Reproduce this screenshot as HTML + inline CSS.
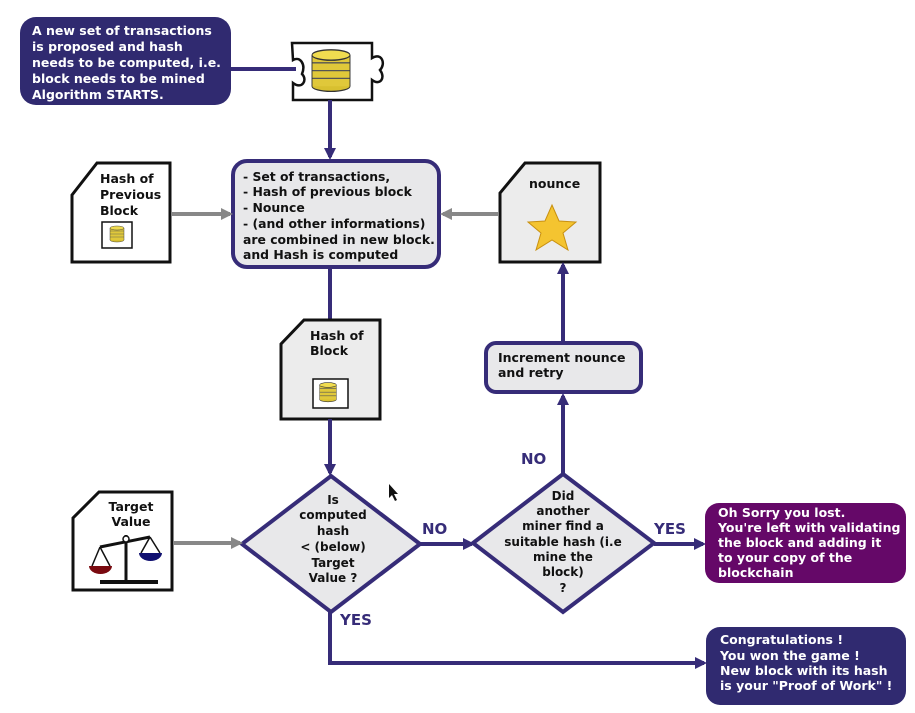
<!DOCTYPE html>
<html><head><meta charset="utf-8"><style>
html,body{margin:0;padding:0;background:#fff;}
svg{display:block;}
text{font-family:"DejaVu Sans","Liberation Sans",sans-serif;font-weight:bold;}
</style></head><body>
<svg width="915" height="713" viewBox="0 0 915 713" xmlns="http://www.w3.org/2000/svg">
<defs>
<marker id="ap" markerWidth="12" markerHeight="12" refX="9" refY="6" orient="auto" markerUnits="userSpaceOnUse"><path d="M0,0 L12,6 L0,12 Z" fill="#362c78"/></marker>
<marker id="ag" markerWidth="12" markerHeight="12" refX="9" refY="6" orient="auto" markerUnits="userSpaceOnUse"><path d="M0,0 L12,6 L0,12 Z" fill="#888"/></marker>
<g id="coins">
<ellipse cx="0" cy="24" rx="20" ry="4" fill="#d8c030" stroke="#333" stroke-width="1"/>
<rect x="-20" y="0" width="40" height="24" fill="#e0c83a"/>
<line x1="-20" y1="6" x2="20" y2="6" stroke="#555" stroke-width="1"/>
<line x1="-20" y1="12" x2="20" y2="12" stroke="#555" stroke-width="1"/>
<line x1="-20" y1="18" x2="20" y2="18" stroke="#555" stroke-width="1"/>
<line x1="-20" y1="0" x2="-20" y2="24" stroke="#333"/>
<line x1="20" y1="0" x2="20" y2="24" stroke="#333"/>
<ellipse cx="0" cy="0" rx="20" ry="4" fill="#f0dc50" stroke="#333" stroke-width="1"/>
</g>
</defs>

<rect x="20" y="17" width="211" height="88" rx="16" fill="#302a70"/>
<g fill="#fff" font-size="12.5">
<text x="32" y="35">A new set of transactions</text>
<text x="32" y="51">is proposed and hash</text>
<text x="32" y="67">needs to be computed, i.e.</text>
<text x="32" y="83">block needs to be mined</text>
<text x="32" y="99">Algorithm STARTS.</text>
</g>
<line x1="231" y1="69" x2="296" y2="69" stroke="#362c78" stroke-width="4"/>

<path d="M292,43 H372 V58 C382,52 386,64 380,70 C386,78 380,86 372,80 V100 H293 V83 C302,90 308,80 302,74 C306,64 300,56 293,60 Z" fill="#fff" stroke="#111" stroke-width="2.5"/>
<g transform="translate(331,55) scale(0.95,1.3)"><use href="#coins"/></g>

<line x1="330" y1="100" x2="330" y2="157" stroke="#362c78" stroke-width="4" marker-end="url(#ap)"/>

<rect x="233" y="161" width="206" height="106" rx="14" fill="#e8e8ea" stroke="#362c78" stroke-width="4"/>
<g fill="#111" font-size="12.4">
<text x="243" y="181">- Set of transactions,</text>
<text x="243" y="196">- Hash of previous block</text>
<text x="243" y="212">- Nounce</text>
<text x="243" y="228">- (and other informations)</text>
<text x="243" y="244">are combined in new block.</text>
<text x="243" y="259">and Hash is computed</text>
</g>

<path d="M97,163 H170 V262 H72 V195 Z" fill="#fff" stroke="#111" stroke-width="3"/>
<g fill="#111" font-size="12.5"><text x="100" y="183">Hash of</text><text x="100" y="199">Previous</text><text x="100" y="215">Block</text></g>
<rect x="102" y="222" width="30" height="26" fill="#fff" stroke="#111" stroke-width="1.5"/>
<g transform="translate(117,228) scale(0.35,0.5)"><use href="#coins"/></g>
<line x1="172" y1="214" x2="230" y2="214" stroke="#888" stroke-width="4" marker-end="url(#ag)"/>

<path d="M525,163 H600 V262 H500 V193 Z" fill="#ececec" stroke="#111" stroke-width="3"/>
<text x="529" y="188" font-size="12.5" fill="#111">nounce</text>
<polygon points="552,205 559,221 576,222 563,233 568,250 552,240 536,250 541,233 528,222 545,221" fill="#f4c430" stroke="#c89010" stroke-width="1"/>
<line x1="498" y1="214" x2="443" y2="214" stroke="#888" stroke-width="4" marker-end="url(#ag)"/>

<line x1="330" y1="267" x2="330" y2="321" stroke="#362c78" stroke-width="4"/>
<path d="M304,320 H380 V419 H281 V344 Z" fill="#ececec" stroke="#111" stroke-width="3"/>
<g fill="#111" font-size="12.5"><text x="310" y="340">Hash of</text><text x="310" y="355">Block</text></g>
<rect x="313" y="379" width="35" height="29" fill="#fff" stroke="#111" stroke-width="1.5"/>
<g transform="translate(328,385) scale(0.42,0.6)"><use href="#coins"/></g>
<line x1="330" y1="419" x2="330" y2="473" stroke="#362c78" stroke-width="4" marker-end="url(#ap)"/>

<polygon points="331,476 420,544 331,612 242,544" fill="#e8e8ea" stroke="#362c78" stroke-width="4"/>
<g fill="#111" font-size="12" text-anchor="middle">
<text x="333" y="504">Is</text><text x="333" y="519">computed</text><text x="333" y="535">hash</text>
<text x="333" y="551">&lt; (below)</text><text x="333" y="567">Target</text><text x="333" y="582">Value ?</text>
</g>

<path d="M99,492 H172 V590 H73 V518 Z" fill="#fff" stroke="#111" stroke-width="3"/>
<g fill="#111" font-size="12.5" text-anchor="middle"><text x="131" y="511">Target</text><text x="131" y="526">Value</text></g>
<g stroke="#111" stroke-width="3" fill="none">
<line x1="126" y1="535" x2="126" y2="582"/>
<line x1="100" y1="582" x2="158" y2="582" stroke-width="4"/>
<line x1="100" y1="547" x2="150" y2="537"/>
<line x1="100" y1="547" x2="92" y2="566" stroke-width="1.5"/><line x1="100" y1="547" x2="110" y2="566" stroke-width="1.5"/>
<line x1="150" y1="537" x2="141" y2="553" stroke-width="1.5"/><line x1="150" y1="537" x2="160" y2="553" stroke-width="1.5"/>
</g>
<circle cx="126" cy="539" r="3" fill="#fff" stroke="#111" stroke-width="1.5"/>
<path d="M89,566 H112 A11.5,8 0 0 1 89,566 Z" fill="#7a0a10"/>
<path d="M139,553 H162 A11.5,8 0 0 1 139,553 Z" fill="#101070"/>
<line x1="174" y1="543" x2="240" y2="543" stroke="#888" stroke-width="4" marker-end="url(#ag)"/>

<line x1="420" y1="544" x2="472" y2="544" stroke="#362c78" stroke-width="4" marker-end="url(#ap)"/>
<text x="422" y="534" font-size="15" fill="#362c78">NO</text>

<polygon points="563,474 654,543 563,612 473,543" fill="#e8e8ea" stroke="#362c78" stroke-width="4"/>
<g fill="#111" font-size="12" text-anchor="middle">
<text x="563" y="500">Did</text><text x="563" y="515">another</text><text x="563" y="530">miner find a</text>
<text x="563" y="546">suitable hash (i.e</text><text x="563" y="561">mine the</text><text x="563" y="576">block)</text><text x="563" y="592">?</text>
</g>
<line x1="563" y1="474" x2="563" y2="396" stroke="#362c78" stroke-width="4" marker-end="url(#ap)"/>
<text x="521" y="464" font-size="15" fill="#362c78">NO</text>

<rect x="486" y="343" width="155" height="49" rx="10" fill="#e8e8ea" stroke="#362c78" stroke-width="4"/>
<g fill="#111" font-size="12.5"><text x="498" y="362">Increment nounce</text><text x="498" y="377">and retry</text></g>
<line x1="563" y1="343" x2="563" y2="265" stroke="#362c78" stroke-width="4" marker-end="url(#ap)"/>

<line x1="654" y1="544" x2="703" y2="544" stroke="#362c78" stroke-width="4" marker-end="url(#ap)"/>
<text x="654" y="534" font-size="15" fill="#362c78">YES</text>
<rect x="705" y="503" width="201" height="80" rx="14" fill="#650868"/>
<g fill="#fff" font-size="12.5">
<text x="718" y="517">Oh Sorry you lost.</text>
<text x="718" y="532">You're left with validating</text>
<text x="718" y="547">the block and adding it</text>
<text x="718" y="562">to your copy of the</text>
<text x="718" y="577">blockchain</text>
</g>

<polyline points="330,612 330,663 704,663" fill="none" stroke="#362c78" stroke-width="4" marker-end="url(#ap)"/>
<text x="340" y="625" font-size="15" fill="#362c78">YES</text>
<rect x="706" y="627" width="200" height="78" rx="14" fill="#302a70"/>
<g fill="#fff" font-size="12.5">
<text x="720" y="644">Congratulations !</text>
<text x="720" y="660">You won the game !</text>
<text x="720" y="675">New block with its hash</text>
<text x="720" y="690">is your "Proof of Work" !</text>
</g>

<path d="M389,484 L389,498 L392,495 L395,501 L397,500 L394,494 L398,494 Z" fill="#111"/>
</svg>
</body></html>
